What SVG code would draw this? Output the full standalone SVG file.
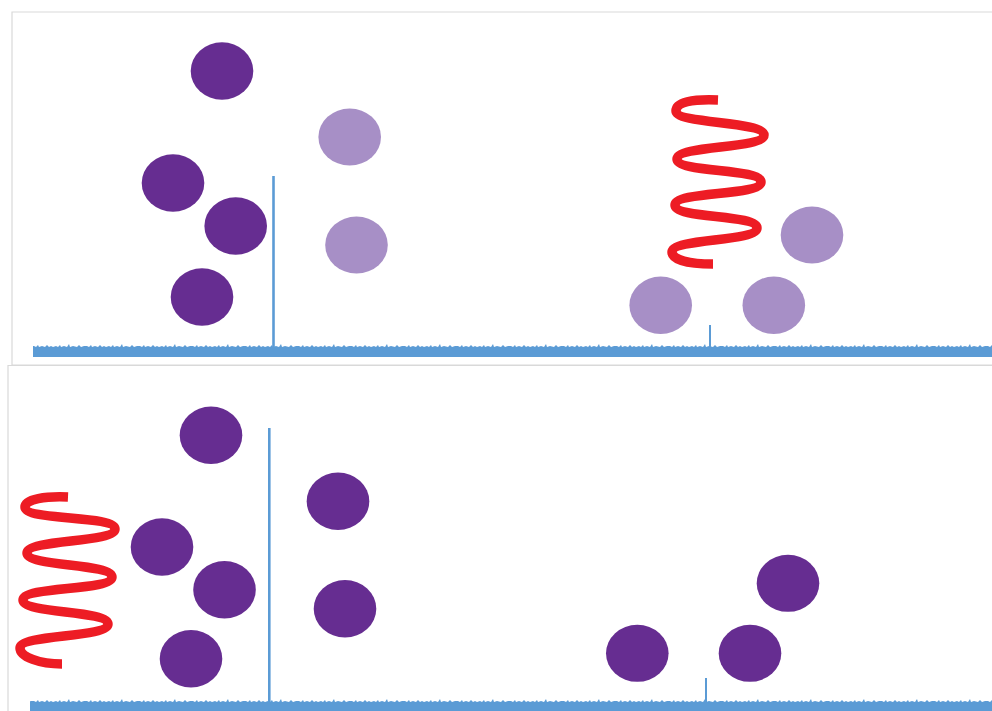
<svg xmlns="http://www.w3.org/2000/svg" width="992" height="711" viewBox="0 0 992 711">
<style>
.frame{fill:none;stroke:#d9d9d9;stroke-width:1.2}
.dark{fill:#662d91}
.light{fill:#a78fc6}
.spring{fill:none;stroke:#ed1c24;stroke-width:9.5;stroke-linecap:butt;stroke-linejoin:round}
.peak{stroke:#5b9bd5;fill:none}
.base{fill:#5b9bd5}
</style>
<defs>
<pattern id="noiseTop" patternUnits="userSpaceOnUse" x="0" y="344" width="53" height="5">
<path class="base" d="M0,5 L0,3 L3,2 L5,3 L7,1 L8,3 L11,2 L14,3 L16,0 L17,3 L20,2 L24,3 L26,1 L28,3 L31,2 L34,2 L36,3 L38,1 L39,3 L42,2 L45,3 L47,1 L49,3 L51,2 L53,3 L53,5 Z"/>
</pattern>
<pattern id="noiseBot" patternUnits="userSpaceOnUse" x="0" y="699" width="53" height="5">
<path class="base" d="M0,5 L0,3 L3,2 L5,3 L7,1 L8,3 L11,2 L14,3 L16,0 L17,3 L20,2 L24,3 L26,1 L28,3 L31,2 L34,2 L36,3 L38,1 L39,3 L42,2 L45,3 L47,1 L49,3 L51,2 L53,3 L53,5 Z"/>
</pattern>
</defs>
<rect width="992" height="711" fill="#ffffff"/>

<g id="panel-top">
<path class="frame" d="M995,12 H12 V365 H995"/>
<g id="top-spectrum">
<rect x="33" y="344" width="959" height="5" fill="url(#noiseTop)"/>
<rect class="base" x="33" y="348.5" width="959" height="8.5"/>
<line class="peak" x1="273.5" y1="176" x2="273.5" y2="350" stroke-width="2.6"/>
<line class="peak" x1="710" y1="325" x2="710" y2="350" stroke-width="2"/>
</g>
<g id="top-circle-1"><ellipse class="dark" cx="222" cy="71" rx="31.3" ry="28.7"/></g>
<g id="top-circle-2"><ellipse class="dark" cx="173" cy="183" rx="31.3" ry="28.7"/></g>
<g id="top-circle-3"><ellipse class="dark" cx="235.7" cy="226" rx="31.3" ry="28.7"/></g>
<g id="top-circle-4"><ellipse class="dark" cx="202" cy="297" rx="31.3" ry="28.7"/></g>
<g id="top-circle-5"><ellipse class="light" cx="349.7" cy="137" rx="31.3" ry="28.5"/></g>
<g id="top-circle-6"><ellipse class="light" cx="356.5" cy="245" rx="31.3" ry="28.5"/></g>
<g id="top-circle-7"><ellipse class="light" cx="660.7" cy="305.3" rx="31.3" ry="28.7"/></g>
<g id="top-circle-8"><ellipse class="light" cx="773.8" cy="305.3" rx="31.3" ry="28.7"/></g>
<g id="top-circle-9"><ellipse class="light" cx="812" cy="235" rx="31.3" ry="28.5"/></g>
<g id="top-spring">
<path class="spring" d="M718,100 C692,99 676,102 676,111 C676,124 764,121 764,135 C764,149 677,145 677,159 C677,173 761,168 761,182 C761,196 675,191 675,205 C675,219 757,214 757,228 C757,242 672,238 672,252 C672,260 690,264 713,264"/>
</g>
</g>

<g id="panel-bottom">
<path class="frame" d="M995,365.5 H8 V715"/>
<g id="bottom-spectrum">
<rect x="30" y="699" width="962" height="5" fill="url(#noiseBot)"/>
<rect class="base" x="30" y="703.5" width="962" height="8"/>
<line class="peak" x1="269.3" y1="428" x2="269.3" y2="705" stroke-width="2.6"/>
<line class="peak" x1="706" y1="678" x2="706" y2="705" stroke-width="2"/>
</g>
<g id="bottom-circle-1"><ellipse class="dark" cx="211" cy="435.3" rx="31.3" ry="28.7"/></g>
<g id="bottom-circle-2"><ellipse class="dark" cx="162" cy="547" rx="31.3" ry="28.7"/></g>
<g id="bottom-circle-3"><ellipse class="dark" cx="224.5" cy="589.7" rx="31.3" ry="28.7"/></g>
<g id="bottom-circle-4"><ellipse class="dark" cx="191" cy="658.7" rx="31.3" ry="28.7"/></g>
<g id="bottom-circle-5"><ellipse class="dark" cx="338" cy="501.3" rx="31.3" ry="28.7"/></g>
<g id="bottom-circle-6"><ellipse class="dark" cx="345" cy="608.7" rx="31.3" ry="28.7"/></g>
<g id="bottom-circle-7"><ellipse class="dark" cx="637.3" cy="653.3" rx="31.3" ry="28.5"/></g>
<g id="bottom-circle-8"><ellipse class="dark" cx="750" cy="653.3" rx="31.3" ry="28.5"/></g>
<g id="bottom-circle-9"><ellipse class="dark" cx="788" cy="583.3" rx="31.3" ry="28.5"/></g>
<g id="bottom-spring">
<path class="spring" d="M68,497 C46,496 25,499 25,507 C25,521 115,515 115,529 C115,543 27,539 27,553 C27,567 112,563 112,577 C112,591 23,586 23,600 C23,614 108,610 108,624 C108,638 20,634 20,648 C20,657 40,664 62,664"/>
</g>
</g>
</svg>
